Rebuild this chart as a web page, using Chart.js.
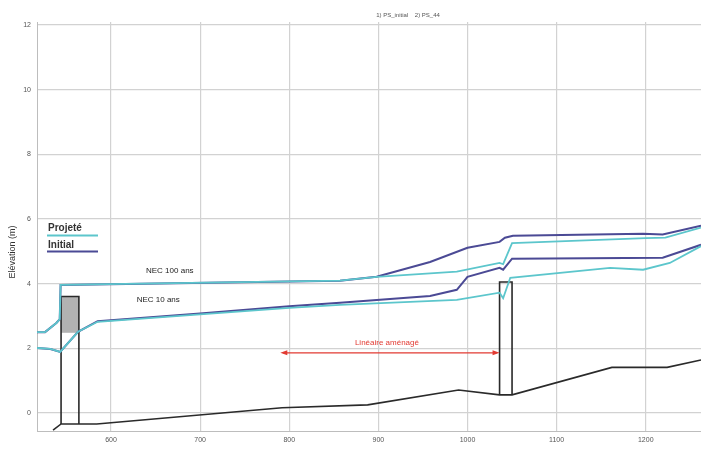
<!DOCTYPE html>
<html>
<head>
<meta charset="utf-8">
<script src="https://cdn.jsdelivr.net/npm/chart.js@4"></script>
<style>
  html, body { margin: 0; padding: 0; background: #fff; }
  #wrap { width: 701px; height: 449px; }
</style>
</head>
<body>
<div id="wrap"><canvas id="profil" width="701" height="449"></canvas></div>
<script>
// ticks
const xTickVals = [600, 700, 800, 900, 1000, 1100, 1200];
const yTickVals = [0, 2, 4, 6, 8, 10, 12];

// terrain naturel
const groundX = [535, 544, 584, 792, 888, 990, 1036, 1050, 1162, 1224, 1262];
const groundY = [-0.53, -0.34, -0.34, 0.16, 0.25, 0.71, 0.56, 0.56, 1.41, 1.41, 1.64];

// NEC 100 ans
const nec100ProjX = [517, 526, 539, 542.5, 543.5, 857, 898, 988, 1036, 1040, 1050, 1200, 1222, 1262];
const nec100ProjY = [2.5, 2.5, 2.79, 2.9, 3.96, 4.09, 4.21, 4.37, 4.64, 4.6, 5.25, 5.41, 5.42, 5.73];
const nec100InitX = [517, 526, 539, 542.5, 543.5, 857, 898, 958, 1000, 1036, 1042, 1051, 1197, 1219, 1262];
const nec100InitY = [2.5, 2.5, 2.79, 2.9, 3.96, 4.09, 4.21, 4.67, 5.11, 5.29, 5.42, 5.48, 5.54, 5.52, 5.79];

// NEC 10 ans
const nec10ProjX = [517, 532, 543, 563, 585, 700, 800, 857, 988, 1036, 1040, 1048, 1160, 1197, 1227, 1262];
const nec10ProjY = [2.01, 1.98, 1.89, 2.51, 2.82, 3.05, 3.25, 3.34, 3.5, 3.72, 3.55, 4.18, 4.49, 4.43, 4.64, 5.16];
const nec10InitX = [517, 532, 543, 563, 585, 700, 800, 857, 958, 988, 1000, 1036, 1040, 1050, 1219, 1262];
const nec10InitY = [2.01, 1.98, 1.89, 2.51, 2.84, 3.08, 3.3, 3.41, 3.62, 3.81, 4.21, 4.49, 4.43, 4.77, 4.8, 5.2];

// ouvrages
const leftStructX = [544, 544, 564, 564];
const leftStructY = [-0.34, 3.6, 3.6, -0.34];
const rightStructX = [1036, 1036, 1050, 1050];
const rightStructY = [0.56, 4.05, 4.05, 0.56];
const boxX = [544, 564];
const boxTopY = [3.6, 3.6];
const boxBottomY = [2.48, 2.48];

// zone aménagée (flèche)
const amenageX = [790, 1036];
const amenageY = 1.86;

const CYAN = "#5cc6cc";
const NAVY = "#4b4a95";
const FONT = "'Liberation Sans', Arial, sans-serif";

const pts = (xs, ys) => xs.map((x, i) => ({ x: x, y: Array.isArray(ys) ? ys[i] : ys }));

const line = (data, color, width, order) => ({
  data: data,
  showLine: true,
  borderColor: color,
  borderWidth: width,
  pointRadius: 0,
  fill: false,
  tension: 0,
  order: order,
});

// textes dessinés sur le graphe
const decorPlugin = {
  id: "decor",
  afterDraw(chart) {
    const ctx = chart.ctx;
    const xs = chart.scales.x;
    const ys = chart.scales.y;
    ctx.save();

    // titre
    ctx.fillStyle = "#555";
    ctx.font = "6px " + FONT;
    ctx.textAlign = "center";
    ctx.textBaseline = "middle";
    ctx.fillText("1) PS_initial    2) PS_44", 408, 15);

    // titre axe y
    ctx.save();
    ctx.translate(13, 252);
    ctx.rotate(-Math.PI / 2);
    ctx.font = "9px " + FONT;
    ctx.fillStyle = "#333";
    ctx.fillText("Elévation (m)", 0, 0);
    ctx.restore();

    // legende
    ctx.textAlign = "left";
    ctx.textBaseline = "alphabetic";
    ctx.font = "bold 10px " + FONT;
    ctx.fillStyle = "#333";
    ctx.fillText("Projeté", 48, 231);
    ctx.fillText("Initial", 48, 248);
    ctx.lineWidth = 2;
    ctx.strokeStyle = CYAN;
    ctx.beginPath(); ctx.moveTo(47, 235.5); ctx.lineTo(98, 235.5); ctx.stroke();
    ctx.strokeStyle = NAVY;
    ctx.beginPath(); ctx.moveTo(47, 251.5); ctx.lineTo(98, 251.5); ctx.stroke();

    // etiquettes NEC
    ctx.textAlign = "center";
    ctx.textBaseline = "middle";
    ctx.font = "8px " + FONT;
    ctx.fillStyle = "#222";
    ctx.fillText("NEC 100 ans", xs.getPixelForValue(666), ys.getPixelForValue(4.4));
    ctx.fillText("NEC 10 ans", xs.getPixelForValue(653), ys.getPixelForValue(3.5));

    // fleche lineaire amenage
    const x1 = xs.getPixelForValue(amenageX[0]);
    const x2 = xs.getPixelForValue(amenageX[1]);
    const y = ys.getPixelForValue(amenageY);
    ctx.strokeStyle = "#e23a32";
    ctx.fillStyle = "#e23a32";
    ctx.lineWidth = 1.2;
    ctx.beginPath(); ctx.moveTo(x1 + 3, y); ctx.lineTo(x2 - 3, y); ctx.stroke();
    ctx.beginPath(); ctx.moveTo(x1, y); ctx.lineTo(x1 + 7, y - 2.5); ctx.lineTo(x1 + 7, y + 2.5); ctx.closePath(); ctx.fill();
    ctx.beginPath(); ctx.moveTo(x2, y); ctx.lineTo(x2 - 7, y - 2.5); ctx.lineTo(x2 - 7, y + 2.5); ctx.closePath(); ctx.fill();
    ctx.font = "8px " + FONT;
    ctx.fillText("Linéaire aménagé", (x1 + x2) / 2 - 3, y - 10);

    ctx.restore();
  },
};

new Chart(document.getElementById("profil"), {
  type: "scatter",
  data: {
    datasets: [
      // boite grise (remplie jusqu'au jeu suivant)
      { data: pts(boxX, boxTopY), showLine: true, borderWidth: 0, pointRadius: 0, backgroundColor: "#b2b2b2", fill: "+1", order: 9 },
      { data: pts(boxX, boxBottomY), showLine: true, borderWidth: 0, pointRadius: 0, fill: false, order: 9 },
      line(pts(groundX, groundY), "#2a2a2a", 1.6, 5),
      line(pts(leftStructX, leftStructY), "#2a2a2a", 1.6, 5),
      line(pts(rightStructX, rightStructY), "#2a2a2a", 1.6, 5),
      line(pts(nec100InitX, nec100InitY), NAVY, 2, 3),
      line(pts(nec10InitX, nec10InitY), NAVY, 2, 3),
      line(pts(nec100ProjX, nec100ProjY), CYAN, 1.8, 1),
      line(pts(nec10ProjX, nec10ProjY), CYAN, 1.8, 1),
    ],
  },
  options: {
    responsive: false,
    animation: false,
    devicePixelRatio: 1,
    layout: { padding: { top: 22, right: 0, left: 0, bottom: 0 } },
    plugins: {
      legend: { display: false },
      tooltip: { enabled: false },
      title: { display: false },
    },
    scales: {
      x: {
        type: "linear",
        min: 517,
        max: 1262,
        afterFit: (s) => { s.height = 18; },
        afterBuildTicks: (s) => { s.ticks = xTickVals.map((v) => ({ value: v })); },
        grid: { color: "#d2d2d2", lineWidth: 1.2, drawTicks: false },
        border: { color: "#bdbdbd" },
        ticks: { color: "#555", font: { size: 7, family: FONT }, padding: 5, callback: (v) => String(v) },
      },
      y: {
        type: "linear",
        min: -0.557,
        max: 12.09,
        afterFit: (s) => { s.width = 37; },
        afterBuildTicks: (s) => { s.ticks = yTickVals.map((v) => ({ value: v })); },
        grid: { color: "#d2d2d2", lineWidth: 1.2, drawTicks: false },
        border: { color: "#bdbdbd" },
        ticks: { color: "#555", font: { size: 7, family: FONT }, padding: 6, callback: (v) => String(v) },
      },
    },
  },
  plugins: [decorPlugin],
});
</script>
</body>
</html>
